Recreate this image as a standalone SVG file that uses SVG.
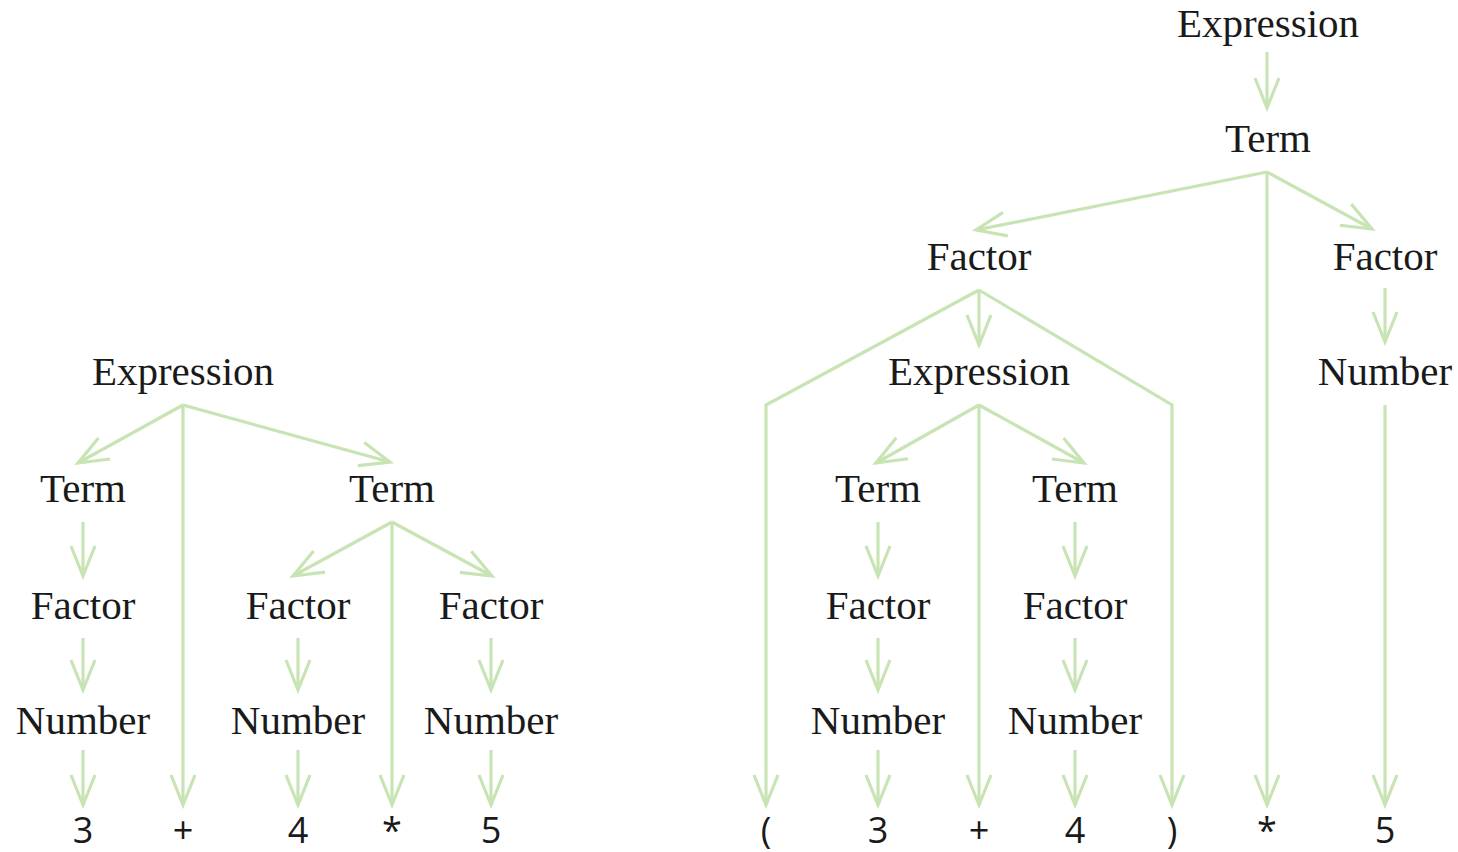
<svg xmlns="http://www.w3.org/2000/svg" width="1458" height="852" viewBox="0 0 1458 852">
<defs>
<marker id="ah" markerUnits="userSpaceOnUse" markerWidth="40" markerHeight="40" viewBox="-34 -20 40 40" refX="0" refY="0" orient="auto">
<path d="M-30,-12 L0,0 L-30,12" fill="none" stroke="#c8e4b4" stroke-width="3.2" stroke-linejoin="miter"/>
</marker>
<style>
.n{font-family:"Liberation Serif","Times New Roman",serif;font-size:41px;fill:#1a1a1a;text-anchor:middle}
.t{font-family:"Open Sans","Liberation Sans",sans-serif;font-size:36px;fill:#1a1a1a;text-anchor:middle}
.c line,.c polyline{stroke:#c8e4b4;stroke-width:3.2;fill:none;marker-end:url(#ah)}
</style>
</defs>
<rect width="1458" height="852" fill="#fff"/>
<g class="c" id="connectors">
<line x1="183" y1="405" x2="78" y2="463"/>
<line x1="183" y1="405" x2="183" y2="805"/>
<line x1="183" y1="405" x2="390" y2="462"/>
<line x1="83" y1="522" x2="83" y2="576"/>
<line x1="83" y1="638" x2="83" y2="690"/>
<line x1="83" y1="750" x2="83" y2="805"/>
<line x1="392" y1="522" x2="293" y2="576"/>
<line x1="392" y1="522" x2="392" y2="805"/>
<line x1="392" y1="522" x2="492" y2="576"/>
<line x1="298" y1="638" x2="298" y2="690"/>
<line x1="298" y1="750" x2="298" y2="805"/>
<line x1="491" y1="638" x2="491" y2="690"/>
<line x1="491" y1="750" x2="491" y2="805"/>
<line x1="1267" y1="52" x2="1267" y2="108"/>
<line x1="1267" y1="172" x2="976" y2="230"/>
<line x1="1267" y1="172" x2="1267" y2="805"/>
<line x1="1267" y1="172" x2="1372" y2="229"/>
<line x1="1385" y1="288" x2="1385" y2="342"/>
<line x1="1385" y1="405" x2="1385" y2="805"/>
<polyline points="979,290 766,405 766,805"/>
<line x1="979" y1="290" x2="979" y2="345"/>
<polyline points="979,290 1172,405 1172,805"/>
<line x1="979" y1="405" x2="876" y2="463"/>
<line x1="979" y1="405" x2="979" y2="805"/>
<line x1="979" y1="405" x2="1084" y2="463"/>
<line x1="878" y1="522" x2="878" y2="576"/>
<line x1="878" y1="638" x2="878" y2="690"/>
<line x1="878" y1="750" x2="878" y2="805"/>
<line x1="1075" y1="522" x2="1075" y2="576"/>
<line x1="1075" y1="638" x2="1075" y2="690"/>
<line x1="1075" y1="750" x2="1075" y2="805"/>
</g>
<g id="l-expr"><text class="n" x="183" y="385">Expression</text></g>
<g id="l-term1"><text class="n" x="83" y="502">Term</text></g>
<g id="l-term2"><text class="n" x="392" y="502">Term</text></g>
<g id="l-fac1"><text class="n" x="83" y="619">Factor</text></g>
<g id="l-fac2"><text class="n" x="298" y="619">Factor</text></g>
<g id="l-fac3"><text class="n" x="491" y="619">Factor</text></g>
<g id="l-num1"><text class="n" x="83" y="734">Number</text></g>
<g id="l-num2"><text class="n" x="298" y="734">Number</text></g>
<g id="l-num3"><text class="n" x="491" y="734">Number</text></g>
<g id="l-tok3"><text class="t" x="83" y="843">3</text></g>
<g id="l-tokplus"><text class="t" x="183" y="843">+</text></g>
<g id="l-tok4"><text class="t" x="298" y="843">4</text></g>
<g id="l-tokstar"><text class="t" x="392" y="843">*</text></g>
<g id="l-tok5"><text class="t" x="491" y="843">5</text></g>
<g id="r-expr"><text class="n" x="1268" y="37">Expression</text></g>
<g id="r-term"><text class="n" x="1268" y="152">Term</text></g>
<g id="r-fac1"><text class="n" x="979" y="270">Factor</text></g>
<g id="r-fac2"><text class="n" x="1385" y="270">Factor</text></g>
<g id="r-expr2"><text class="n" x="979" y="385">Expression</text></g>
<g id="r-num0"><text class="n" x="1385" y="385">Number</text></g>
<g id="r-term1"><text class="n" x="878" y="502">Term</text></g>
<g id="r-term2"><text class="n" x="1075" y="502">Term</text></g>
<g id="r-fac3"><text class="n" x="878" y="619">Factor</text></g>
<g id="r-fac4"><text class="n" x="1075" y="619">Factor</text></g>
<g id="r-num1"><text class="n" x="878" y="734">Number</text></g>
<g id="r-num2"><text class="n" x="1075" y="734">Number</text></g>
<g id="r-toklp"><text class="t" x="766" y="843">(</text></g>
<g id="r-tok3"><text class="t" x="878" y="843">3</text></g>
<g id="r-tokplus"><text class="t" x="979" y="843">+</text></g>
<g id="r-tok4"><text class="t" x="1075" y="843">4</text></g>
<g id="r-tokrp"><text class="t" x="1172" y="843">)</text></g>
<g id="r-tokstar"><text class="t" x="1267" y="843">*</text></g>
<g id="r-tok5"><text class="t" x="1385" y="843">5</text></g>
</svg>
